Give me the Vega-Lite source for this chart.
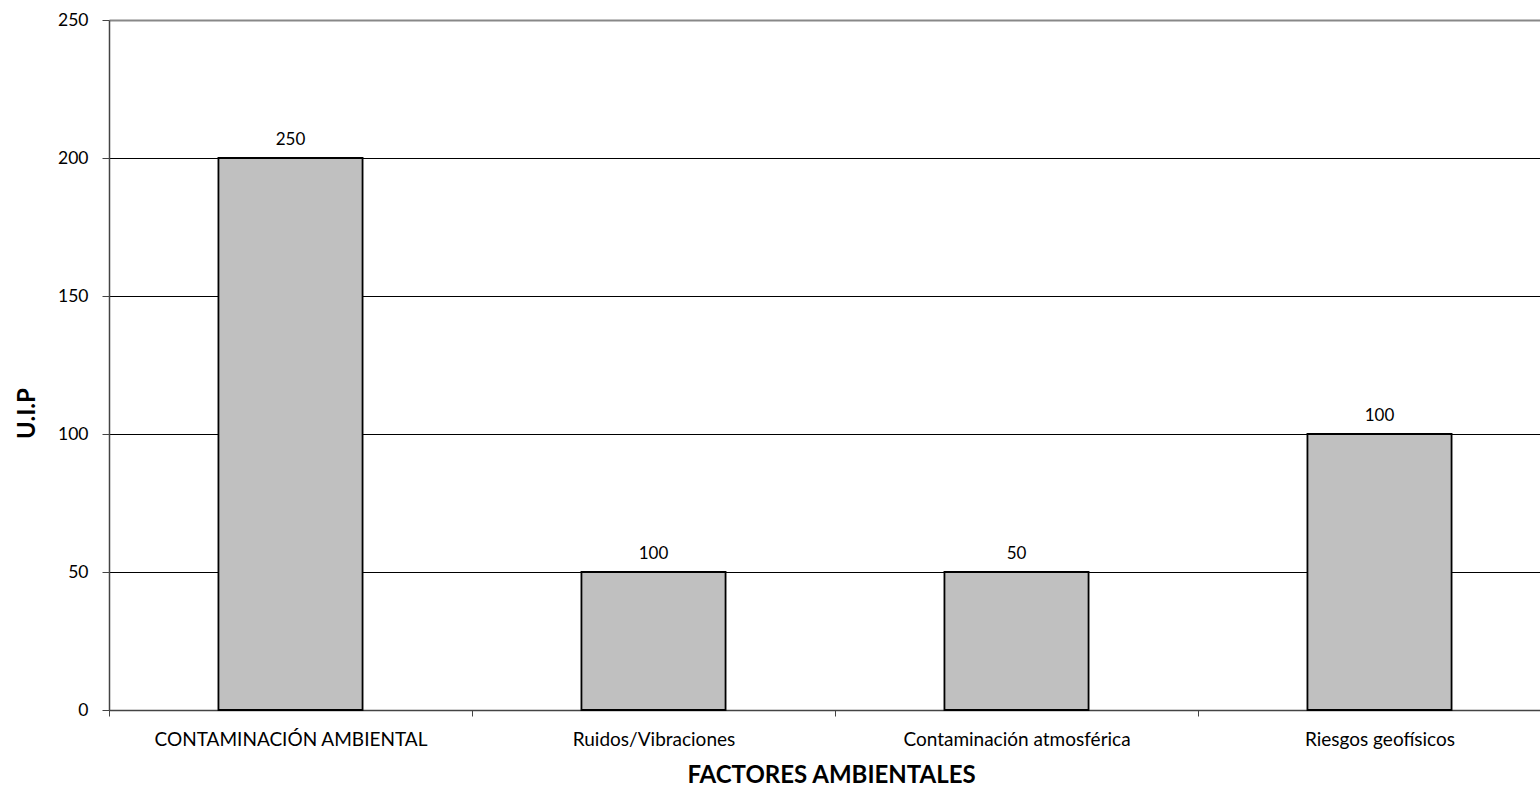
{
  "$schema": "https://vega.github.io/schema/vega-lite/v6.json",
  "autosize": "none",
  "width": 1431,
  "height": 690,
  "padding": {"left": 109, "top": 20, "right": 0, "bottom": 79},
  "background": "white",
  "config": {
    "view": {"stroke": null},
    "font": "Lato",
    "axis": {
      "labelFont": "Lato",
      "titleFont": "Lato",
      "labelColor": "black",
      "titleColor": "black",
      "labelFontWeight": "normal"
    }
  },
  "data": {
    "values": [
      {"factor": "CONTAMINACIÓN AMBIENTAL", "uip": 200, "etiqueta": "250"},
      {"factor": "Ruidos/Vibraciones", "uip": 50, "etiqueta": "100"},
      {"factor": "Contaminación  atmosférica", "uip": 50, "etiqueta": "50"},
      {"factor": "Riesgos geofísicos", "uip": 100, "etiqueta": "100"}
    ]
  },
  "encoding": {
    "x": {
      "field": "factor",
      "type": "nominal",
      "sort": null,
      "scale": {"range": [0, 1452], "paddingInner": 0, "paddingOuter": 0},
      "axis": {
        "title": "FACTORES AMBIENTALES",
        "titleFontSize": 24,
        "titleFontWeight": "bold",
        "titleX": 722,
        "titleY": 72,
        "titleBaseline": "alphabetic",
        "labelAngle": 0,
        "labelFontSize": 19,
        "labelLimit": 0,
        "labelPadding": 14,
        "tickBand": "extent",
        "tickSize": 6,
        "tickColor": "#444444",
        "domainColor": "#444444",
        "domainWidth": 1.5,
        "grid": false
      }
    }
  },
  "layer": [
    {
      "mark": {"type": "bar", "width": {"band": 0.397}, "fill": "#c0c0c0", "stroke": "black", "strokeWidth": 1.8},
      "encoding": {
        "y": {
          "field": "uip",
          "type": "quantitative",
          "scale": {"domain": [0, 250], "nice": false},
          "axis": {
            "title": "U.I.P",
            "titleFontSize": 24,
            "titleFontWeight": "bold",
            "titleX": -82,
            "titleY": 393,
            "titleAngle": -90,
            "titleAlign": "center",
            "titleBaseline": "middle",
            "values": [0, 50, 100, 150, 200, 250],
            "labelFontSize": 17.5,
            "labelPadding": 14,
            "tickSize": 7,
            "tickColor": "#444444",
            "domainColor": "#444444",
            "domainWidth": 1.5,
            "grid": true,
            "gridColor": {"condition": {"test": "datum.value === 250", "value": "#888888"}, "value": "black"},
            "gridWidth": {"condition": {"test": "datum.value === 250", "value": 2.2}, "value": 1.2},
            "gridOpacity": 1
          }
        }
      }
    },
    {
      "mark": {"type": "text", "baseline": "alphabetic", "dy": -13, "fontSize": 17, "color": "black", "font": "Lato"},
      "encoding": {
        "y": {"field": "uip", "type": "quantitative"},
        "text": {"field": "etiqueta"}
      }
    }
  ]
}
